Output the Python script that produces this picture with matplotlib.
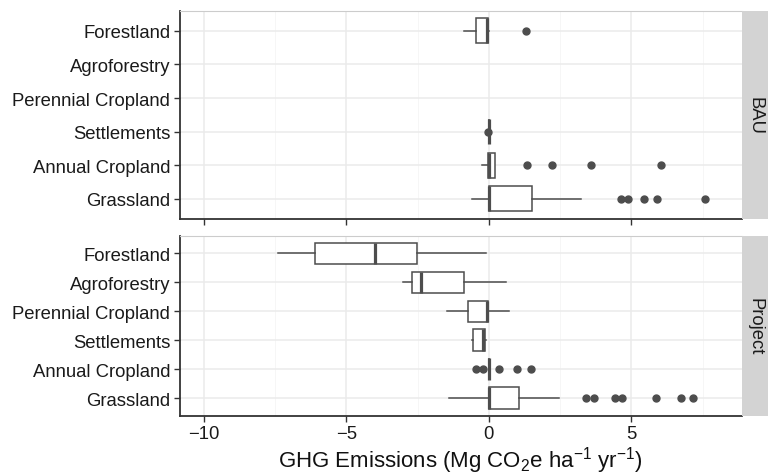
import matplotlib
matplotlib.use('Agg')
import matplotlib.pyplot as plt
from matplotlib.ticker import MultipleLocator

plt.rcParams['font.family'] = ['Liberation Sans', 'DejaVu Sans']
plt.rcParams['mathtext.fontset'] = 'custom'
plt.rcParams['mathtext.rm'] = 'Liberation Sans'
plt.rcParams['mathtext.it'] = 'Liberation Sans:italic'

# categories, top to bottom
categories = ['Forestland', 'Agroforestry', 'Perennial Cropland',
              'Settlements', 'Annual Cropland', 'Grassland']

# box stats: (whislo, q1, med, q3, whishi, fliers)
bau = {
    'Forestland': (-0.87, -0.45, -0.06, -0.04, 0.0, [1.30]),
    'Settlements': (0.0, 0.0, 0.0, 0.0, 0.0, [-0.03]),
    'Annual Cropland': (-0.25, -0.03, 0.0, 0.21, 0.21, [1.33, 2.2, 3.6, 6.05]),
    'Grassland': (-0.58, 0.0, 0.0, 1.51, 3.23, [4.62, 4.87, 5.44, 5.91, 7.59]),
}
project = {
    'Forestland': (-7.39, -6.1, -4.0, -2.52, -0.1, []),
    'Agroforestry': (-3.0, -2.7, -2.37, -0.87, 0.61, []),
    'Perennial Cropland': (-1.47, -0.74, -0.08, -0.03, 0.69, []),
    'Settlements': (-0.6, -0.57, -0.2, -0.13, -0.1, []),
    'Annual Cropland': (0.0, 0.0, 0.0, 0.0, 0.0, [-0.46, -0.2, 0.37, 0.97, 1.47]),
    'Grassland': (-1.4, 0.0, 0.0, 1.04, 2.47, [3.41, 3.7, 4.41, 4.67, 5.87, 6.75, 7.16]),
}

panels = [('BAU', bau), ('Project', project)]

fig = plt.figure(figsize=(7.68, 4.77), dpi=100)
ax_rects = [[0.2344, 0.5388, 0.7313, 0.4367],
            [0.2344, 0.1264, 0.7313, 0.3767]]

dark = '#4d4d4d'
n = len(categories)
for i, (name, data) in enumerate(panels):
    ax = fig.add_axes(ax_rects[i])
    stats, pos = [], []
    for j, cat in enumerate(categories):
        if cat not in data:
            continue
        lo, q1, med, q3, hi, fl = data[cat]
        stats.append(dict(whislo=lo, q1=q1, med=med, q3=q3, whishi=hi, fliers=fl))
        pos.append(n - j)
    ax.bxp(stats, positions=pos, widths=0.75, orientation='horizontal',
           showcaps=False, patch_artist=True, zorder=3,
           boxprops=dict(facecolor='white', edgecolor=dark, linewidth=1.1),
           whiskerprops=dict(color=dark, linewidth=1.1),
           medianprops=dict(color=dark, linewidth=2.3),
           flierprops=dict(marker='o', markerfacecolor=dark, markeredgecolor=dark,
                           markersize=5))
    ax.set_xlim(-10.84, 8.87)
    ax.set_ylim(0.4, n + 0.6)
    ax.set_yticks(range(n, 0, -1))
    ax.set_yticklabels(categories)
    ax.xaxis.set_major_locator(MultipleLocator(5))
    ax.xaxis.set_minor_locator(MultipleLocator(2.5))
    ax.grid(True, which='major', color='#ebebeb', linewidth=1.1, zorder=0)
    ax.grid(True, which='minor', axis='x', color='#f5f5f5', linewidth=0.6, zorder=0)
    ax.set_axisbelow(True)
    ax.tick_params(which='major', length=4, width=1, color='#333333',
                   labelsize=13.3, labelcolor='#1a1a1a', pad=3)
    ax.tick_params(which='minor', length=0)
    for s in ['left', 'bottom']:
        ax.spines[s].set_color('#333333')
        ax.spines[s].set_linewidth(1.3)
    ax.spines['top'].set_color('#cccccc')
    ax.spines['top'].set_linewidth(0.8)
    ax.spines['right'].set_visible(False)
    if i == 0:
        ax.set_xticklabels([])
    else:
        ax.set_xticks([-10, -5, 0, 5])
        ax.set_xticklabels(['\u221210', '\u22125', '0', '5'])
        ax.set_xlabel(r'GHG Emissions (Mg CO$_\mathregular{2}$e ha$^\mathregular{-1}$ yr$^\mathregular{-1}$)',
                      fontsize=16, color='#111111', labelpad=1)

    # facet strip
    r = ax_rects[i]
    sax = fig.add_axes([r[0] + r[2], r[1], 1 - r[0] - r[2], r[3]])
    sax.set_facecolor('#d3d3d3')
    sax.set_xticks([])
    sax.set_yticks([])
    for s in sax.spines.values():
        s.set_visible(False)
    sax.text(0.5, 0.5, name, rotation=-90, ha='center', va='center',
             fontsize=13.3, color='#1a1a1a', transform=sax.transAxes)

fig.savefig('out.png', dpi=100)
